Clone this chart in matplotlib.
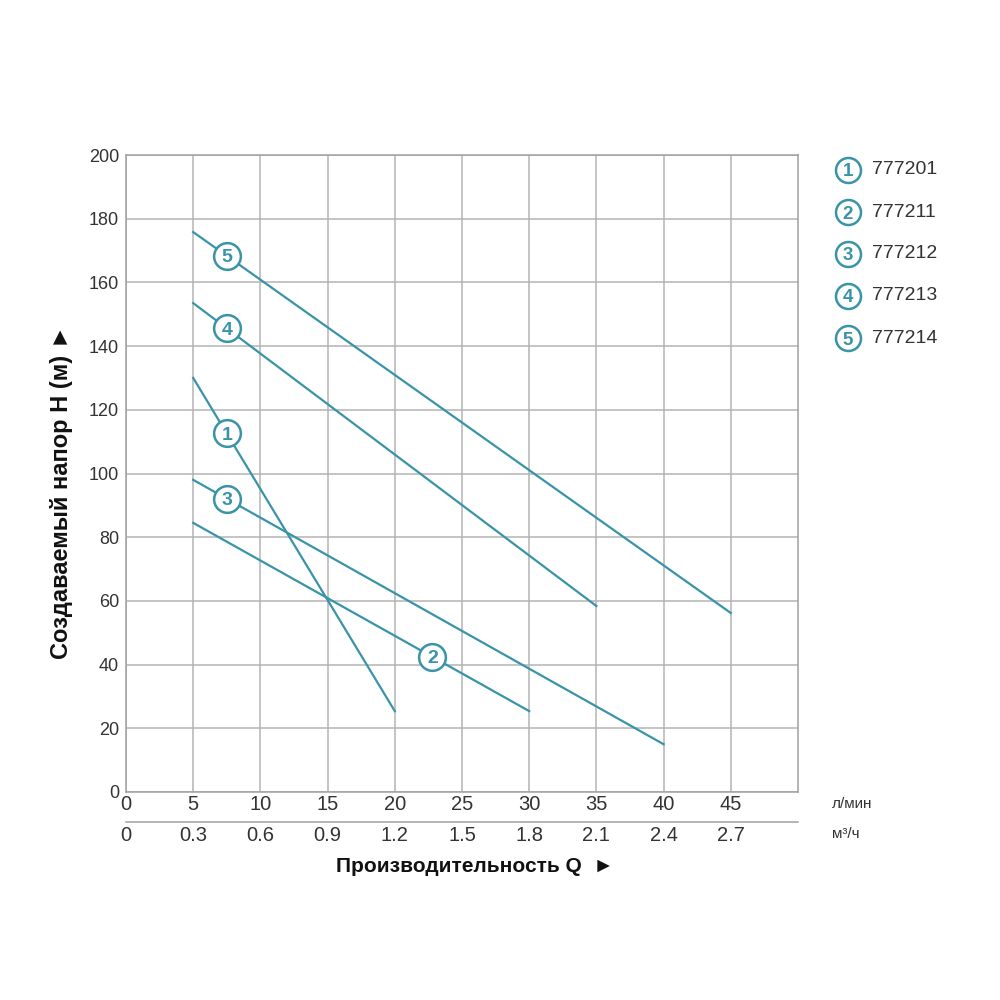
import matplotlib
matplotlib.use("Agg")
import matplotlib.pyplot as plt
import numpy as np
from matplotlib import font_manager

plt.rcParams['font.family'] = ['Liberation Sans', 'DejaVu Sans']

# Data (Q in л/мин, H in м)
models = ["777201", "777211", "777212", "777213", "777214"]
labels = ["1", "2", "3", "4", "5"]
q_start = [5, 5, 5, 5, 5]
q_end = [20, 30, 40, 35, 45]
h_start = [130, 84.5, 98, 153.5, 175.8]
h_end = [25.4, 25.4, 15, 58.4, 56.2]
marker_q = [7.5, 22.8, 7.5, 7.5, 7.5]

x_ticks = [0, 5, 10, 15, 20, 25, 30, 35, 40, 45]
m3_ticks = [0, 0.3, 0.6, 0.9, 1.2, 1.5, 1.8, 2.1, 2.4, 2.7]
y_ticks = [0, 20, 40, 60, 80, 100, 120, 140, 160, 180, 200]

color = "#3894a6"
grid_c = "#b4b4b4"
txt_c = "#333333"

names = {f.name for f in font_manager.fontManager.ttflist}
narrow = 'Liberation Sans Narrow' if 'Liberation Sans Narrow' in names else 'Liberation Sans'

fig = plt.figure(figsize=(10, 10), dpi=100)
ax = fig.add_axes([0.126, 0.208, 0.672, 0.637])
ax.set_xlim(0, 50)
ax.set_ylim(0, 200)
ax.set_xticks(x_ticks)
ax.set_yticks(y_ticks)
ax.grid(True, color=grid_c, linewidth=1.1)
ax.set_axisbelow(True)
for s in ax.spines.values():
    s.set_color("#a0a0a0")
    s.set_linewidth(1.1)
ax.tick_params(length=0, colors=txt_c)
ax.tick_params(axis='y', labelsize=13, pad=5)
ax.tick_params(axis='x', labelsize=14.5, pad=2)
for t in ax.get_xticklabels():
    t.set_fontfamily([narrow, 'DejaVu Sans'])

for i in range(len(models)):
    ax.plot([q_start[i], q_end[i]], [h_start[i], h_end[i]], color=color, lw=1.6, zorder=3)
    mq = marker_q[i]
    mh = np.interp(mq, [q_start[i], q_end[i]], [h_start[i], h_end[i]])
    ax.scatter([mq], [mh], s=370, facecolor="white", edgecolor=color, linewidth=1.8, zorder=4)
    ax.text(mq, mh, labels[i], color=color, fontsize=14, ha='center', va='center_baseline',
            zorder=5, fontweight='bold')

# secondary axis m3/h
sec = ax.secondary_xaxis('bottom', functions=(lambda x: x * 0.06, lambda x: x / 0.06))
sec.spines['bottom'].set_position(('outward', 21.6))
sec.spines['bottom'].set_color("#a0a0a0")
sec.spines['bottom'].set_linewidth(1.1)
sec.set_xticks(m3_ticks)
sec.set_xticklabels([str(v) if v != 0 else "0" for v in m3_ticks])
sec.tick_params(length=0, labelsize=14.5, colors=txt_c, pad=3)
for t in sec.get_xticklabels():
    t.set_fontfamily([narrow, 'DejaVu Sans'])

fig.text(0.832, 0.196, "л/мин", fontsize=11, color=txt_c, va='center', ha='left',
         family=[narrow, 'DejaVu Sans'])
fig.text(0.832, 0.166, "м³/ч", fontsize=11, color=txt_c, va='center', ha='left',
         family=[narrow, 'DejaVu Sans'])

fig.text(0.475, 0.134, "Производительность Q  ►", fontsize=15, fontweight='bold',
         ha='center', va='center', color="#111111")
fig.text(0.062, 0.508, "Создаваемый напор H (м) ►", fontsize=17, fontweight='bold',
         ha='center', va='center', rotation=90, color="#111111")

# legend
for i in range(len(models)):
    yy = 0.830 - i * 0.042
    fig.lines.append(plt.Line2D([0.848], [yy], marker='o', markersize=18, markerfacecolor='white',
                                markeredgecolor=color, markeredgewidth=1.8, transform=fig.transFigure))
    fig.text(0.848, yy, labels[i], color=color, fontsize=13.5, fontweight='bold', ha='center', va='center_baseline')
    fig.text(0.872, yy, models[i], color=txt_c, fontsize=14, ha='left', va='center')

fig.savefig("out.png", dpi=100)
